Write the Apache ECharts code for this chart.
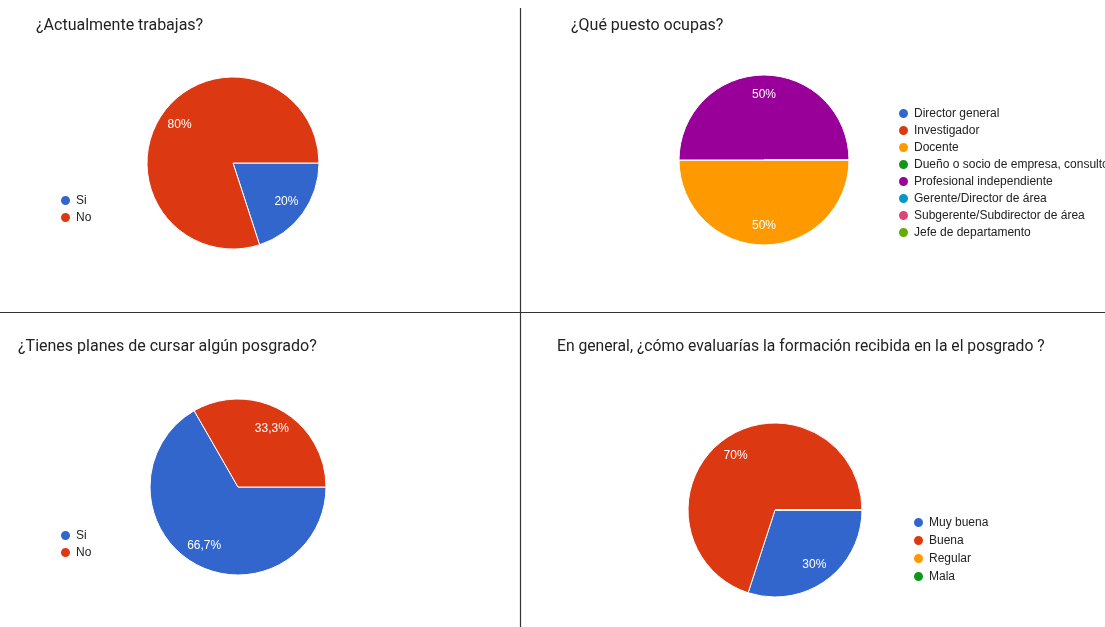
<!DOCTYPE html>
<html>
<head>
<meta charset="utf-8">
<script src="https://cdn.jsdelivr.net/npm/echarts@6/dist/echarts.min.js"></script>
<style>
  html, body { margin: 0; padding: 0; background: #fff; }
  #chart { width: 1105px; height: 627px; }
</style>
</head>
<body>
<div id="chart"></div>
<script>
// datos de las cuatro preguntas
var trabajaNames = ['Si', 'No'];
var trabajaValues = [20, 80];

var puestoNames = ['Director general', 'Investigador', 'Docente', 'Dueño o socio de empresa, consultor',
    'Profesional independiente', 'Gerente/Director de área', 'Subgerente/Subdirector de área', 'Jefe de departamento'];
var puestoValues = [0, 0, 50, 0, 50, 0, 0, 0];

var posgradoNames = ['Si', 'No'];
var posgradoValues = [66.7, 33.3];

var formacionNames = ['Muy buena', 'Buena', 'Regular', 'Mala'];
var formacionValues = [30, 70, 0, 0];

// paleta tipo Google Forms
var palette = ['#3366cc', '#dc3912', '#ff9900', '#109618', '#990099', '#0099c6', '#dd4477', '#66aa00'];

var myChart = echarts.init(document.getElementById('chart'));

function buildData(names, values, transparent) {
    var out = [];
    for (var i = 0; i < names.length; i++) {
        out.push({
            name: names[i],
            value: values[i],
            itemStyle: { color: transparent ? 'rgba(0,0,0,0)' : palette[i] }
        });
    }
    return out;
}

function pctLabel(p) {
    if (!p.value) return '';
    return String(p.percent).replace('.', ',') + '%';
}

// pastel + capa transparente solo para colocar las etiquetas mas afuera
function pieSeries(names, values, center, r) {
    return [
        {
            type: 'pie',
            center: center,
            radius: [0, r],
            startAngle: 0,
            clockwise: true,
            percentPrecision: 1,
            label: { show: false },
            labelLine: { show: false },
            itemStyle: { borderColor: '#fff', borderWidth: 1 },
            emphasis: { disabled: true },
            data: buildData(names, values, false)
        },
        {
            type: 'pie',
            center: center,
            radius: [Math.round(r * 0.47), r],
            startAngle: 0,
            clockwise: true,
            percentPrecision: 1,
            silent: true,
            z: 5,
            label: {
                show: true,
                position: 'inside',
                color: '#fff',
                fontSize: 12,
                fontFamily: 'Liberation Sans',
                formatter: pctLabel
            },
            labelLine: { show: false },
            itemStyle: { borderWidth: 0 },
            emphasis: { disabled: true },
            data: buildData(names, values, true)
        }
    ];
}

function legendFor(names, left, top, gap) {
    return {
        orient: 'vertical',
        left: left,
        top: top,
        padding: 0,
        icon: 'circle',
        itemWidth: 11,
        itemHeight: 11,
        itemGap: gap,
        selectedMode: false,
        data: names,
        textStyle: { fontSize: 12, lineHeight: 13, color: '#222', fontFamily: 'Liberation Sans' }
    };
}

var titleStyle = { fontSize: 16, fontWeight: 'normal', color: '#222', fontFamily: 'Roboto' };

var series = []
    .concat(pieSeries(trabajaNames, trabajaValues, [233, 163], 86))
    .concat(pieSeries(puestoNames, puestoValues, [764, 160], 85))
    .concat(pieSeries(posgradoNames, posgradoValues, [238, 487], 88))
    .concat(pieSeries(formacionNames, formacionValues, [775, 510], 87));

var option = {
    animation: false,
    backgroundColor: '#fff',
    title: [
        { text: '¿Actualmente trabajas?', left: 36, top: 18, padding: 0, textStyle: titleStyle },
        { text: '¿Qué puesto ocupas?', left: 571, top: 18, padding: 0, textStyle: titleStyle },
        { text: '¿Tienes planes de cursar algún posgrado?', left: 18, top: 339, padding: 0, textStyle: titleStyle },
        { text: 'En general, ¿cómo evaluarías la formación recibida en la el posgrado ?', left: 557, top: 339, padding: 0,
          textStyle: { fontSize: 15.7, fontWeight: 'normal', color: '#222', fontFamily: 'Roboto' } }
    ],
    legend: [
        legendFor(trabajaNames, 59, 194, 4),
        legendFor(puestoNames, 897, 107, 4),
        legendFor(posgradoNames, 59, 529, 4),
        legendFor(formacionNames, 912, 516, 5)
    ],
    // lineas divisorias entre paneles
    graphic: [
        { type: 'line', shape: { x1: 520.5, y1: 8, x2: 520.5, y2: 627 }, style: { stroke: '#333', lineWidth: 1.2 } },
        { type: 'line', shape: { x1: 0, y1: 312.5, x2: 1105, y2: 312.5 }, style: { stroke: '#333', lineWidth: 1.2 } }
    ],
    series: series
};

myChart.setOption(option);
window.addEventListener('resize', myChart.resize);
</script>
</body>
</html>
